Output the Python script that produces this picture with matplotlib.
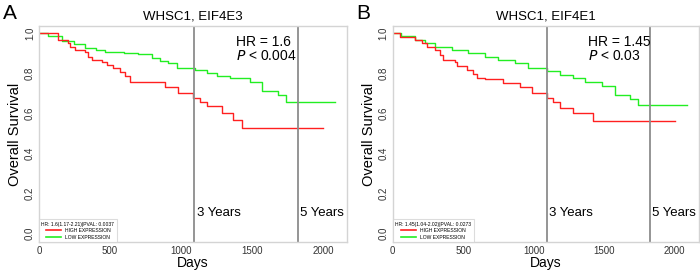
import matplotlib
matplotlib.use("Agg")
import matplotlib.pyplot as plt

plt.rcParams['font.family'] = ['Liberation Sans', 'DejaVu Sans']

# 패널 A: WHSC1, EIF4E3
a_high_t = [0, 136, 207, 218, 254, 324, 347, 371, 441, 477, 523, 570, 606, 641,
            887, 981, 1087, 1134, 1181, 1286, 1368, 1427, 2002]
a_high_s = [1.0, 0.965, 0.948, 0.932, 0.915, 0.907, 0.882, 0.865, 0.853, 0.84,
            0.823, 0.807, 0.787, 0.753, 0.732, 0.698, 0.677, 0.653, 0.635,
            0.598, 0.565, 0.523, 0.523]
a_low_t = [0, 60, 160, 250, 324, 400, 465, 600, 697, 794, 850, 908, 970, 1099,
           1181, 1251, 1345, 1486, 1568, 1685, 1739, 2085]
a_low_s = [1.0, 0.985, 0.96, 0.945, 0.926, 0.915, 0.907, 0.9, 0.893, 0.873,
           0.86, 0.848, 0.827, 0.815, 0.798, 0.787, 0.773, 0.753, 0.712, 0.69,
           0.653, 0.653]

# 패널 B: WHSC1, EIF4E1
b_high_t = [0, 52, 158, 205, 240, 300, 335, 359, 442, 454, 525, 572, 595, 655,
            782, 902, 990, 1092, 1139, 1186, 1280, 1422, 2005]
b_high_s = [1.0, 0.982, 0.965, 0.948, 0.932, 0.915, 0.89, 0.865, 0.853, 0.837,
            0.815, 0.793, 0.777, 0.768, 0.748, 0.732, 0.698, 0.677, 0.653,
            0.627, 0.598, 0.56, 0.56]
b_low_t = [0, 60, 158, 229, 300, 418, 536, 655, 749, 867, 962, 1092, 1186,
           1280, 1363, 1482, 1577, 1683, 1742, 2085]
b_low_s = [1.0, 0.985, 0.965, 0.948, 0.932, 0.915, 0.898, 0.882, 0.865, 0.848,
           0.823, 0.81, 0.79, 0.777, 0.757, 0.735, 0.69, 0.67, 0.64, 0.64]

year_marks = [1095, 1825]
year_labels = ['3 Years', '5 Years']
x_ticks = [0, 500, 1000, 1500, 2000]
y_ticks = [0.0, 0.2, 0.4, 0.6, 0.8, 1.0]

RED = '#ff2020'
GREEN = '#22ee22'
FRAME = '#d4d4d4'


def draw_panel(ax, letter, title, high_t, high_s, low_t, low_s, hr, p, stats):
    ax.step(low_t, low_s, where='post', color=GREEN, lw=1.0, label='LOW EXPRESSION')
    ax.step(high_t, high_s, where='post', color=RED, lw=1.0, label='HIGH EXPRESSION')

    for xv, lab in zip(year_marks, year_labels):
        ax.axvline(xv, color='#8c8c8c', lw=1.3)
        ax.text(xv + 15, 0.1, lab, fontsize=9.5, va='center', ha='left')

    ax.set_xlim(0, 2170)
    ax.set_ylim(-0.045, 1.035)
    ax.set_xticks(x_ticks)
    ax.set_yticks(y_ticks)
    ax.set_yticklabels([f'{v:.1f}' for v in y_ticks], rotation=90, va='center')
    ax.tick_params(length=0, labelsize=7, colors='#333333', pad=3)
    for sp in ax.spines.values():
        sp.set_color(FRAME)
        sp.set_linewidth(1.0)

    ax.set_xlabel('Days', fontsize=10, labelpad=0)
    ax.set_ylabel('Overall Survival', fontsize=10.5, labelpad=2)
    ax.set_title(title, fontsize=9.5, pad=4.5)

    ax.text(1385, 0.955, f'HR = {hr}', fontsize=10, va='center', ha='left')
    ax.text(1385, 0.885, r'$\it{P}$' + f' < {p}', fontsize=10, va='center', ha='left')

    handles, labels = ax.get_legend_handles_labels()
    leg = ax.legend(handles[::-1], labels[::-1], title=stats, loc='lower left',
                    fontsize=3.6, title_fontsize=3.6, frameon=True, fancybox=False,
                    borderaxespad=0.0, handlelength=3, borderpad=0.5,
                    labelspacing=0.3)
    leg.get_frame().set_edgecolor(FRAME)
    leg.get_frame().set_linewidth(0.8)
    for ln in leg.get_lines():
        ln.set_linewidth(1.2)

    ax.figure.text(ax.get_position().x0 - 0.052, 0.985, letter,
                   fontsize=15, va='top', ha='left')


fig = plt.figure(figsize=(7, 2.7), dpi=100)
ax_a = fig.add_axes([0.0557, 0.1037, 0.44, 0.80])
ax_b = fig.add_axes([0.561, 0.1037, 0.437, 0.80])

draw_panel(ax_a, 'A', 'WHSC1, EIF4E3', a_high_t, a_high_s, a_low_t, a_low_s,
           '1.6', '0.004', 'HR: 1.6(1.17-2.21)|PVAL: 0.0037')
draw_panel(ax_b, 'B', 'WHSC1, EIF4E1', b_high_t, b_high_s, b_low_t, b_low_s,
           '1.45', '0.03', 'HR: 1.45(1.04-2.02)|PVAL: 0.0273')

fig.savefig('out.png', dpi=100)
